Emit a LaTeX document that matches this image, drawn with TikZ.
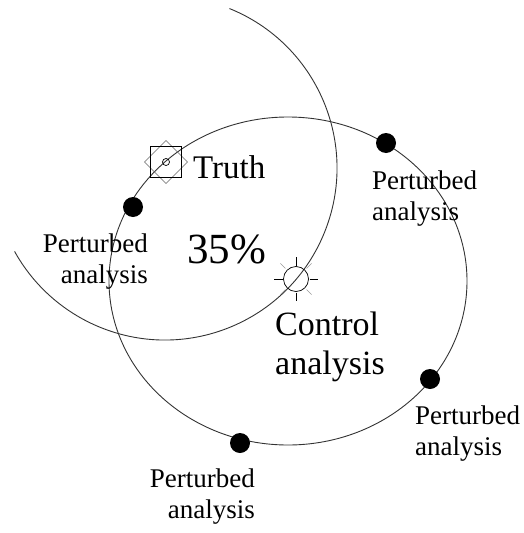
\documentclass[tikz,border=0pt]{standalone}
\usepackage{fontspec}
\setmainfont{Liberation Serif}
\usetikzlibrary{calc}

\begin{document}
\begin{tikzpicture}[x=1pt, y=-1pt,
		dot/.style={circle, fill=black, inner sep=0pt, minimum size=20pt},
		pert/.style={inner sep=0pt, font=\fontsize{27}{31}\selectfont},
		curve/.style={line width=0.9pt, color=black!80}]
			%%%%% START %%%%%
			\useasboundingbox (0, 0) rectangle (524, 533);
			
			\draw[curve] (288, 281) ellipse (179 and 164);
			\draw[curve] (165, 168) ++(-68:172) arc (-68:151:172);
			
			\node[dot] (p1) at (386, 143) {};
			\node[dot] (p2) at (133, 207) {};
			\node[dot] (p3) at (430, 379) {};
			\node[dot] (p4) at (240, 443) {};
			
			\node[pert, align=left, anchor=west] (l1) at (372, 199) {Perturbed\\analysis};
			\node[pert, align=right, anchor=east] (l2) at (148, 262) {Perturbed\\analysis};
			\node[pert, align=left, anchor=west] (l3) at (415, 434) {Perturbed\\analysis};
			\node[pert, align=right, anchor=east] (l4) at (255, 497) {Perturbed\\analysis};
			
			\coordinate (truth) at (166, 162);
			\draw[line width=0.5pt, color=black!60] ($(truth)+(-21.5, 0)$) -- ($(truth)+(0, -21.5)$) -- ($(truth)+(21.5, 0)$) -- ($(truth)+(0, 21.5)$) -- cycle;
			\draw[line width=0.9pt] ($(truth)+(-15.5, -15.5)$) rectangle ($(truth)+(15.5, 15.5)$);
			\draw[line width=0.7pt] (truth) circle (3.5);
			\node[inner sep=0pt, anchor=base west, font=\fontsize{33}{38}\selectfont] (tt) at (193, 178) {Truth};
			
			\node[inner sep=0pt, anchor=base west, font=\fontsize{43}{50}\selectfont] (pct) at (187, 263) {35\%};
			
			\coordinate (ctrl) at (296, 279);
			\draw[line width=0.7pt] (ctrl) circle (12.5);
			\foreach \a in {0, 90, 180, 270}
				\draw[line width=1pt] ($(ctrl)+(\a:13.5)$) -- ($(ctrl)+(\a:22)$);
			\foreach \a in {45, 135, 225, 315}
				\draw[line width=0.6pt, color=black!40] ($(ctrl)+(\a:15)$) -- ($(ctrl)+(\a:22)$);
			\node[inner sep=0pt, align=left, anchor=west, font=\fontsize{34}{39}\selectfont] (ca) at (275, 347) {Control\\analysis};
			
			%%%%% END %%%%%
		\end{tikzpicture}
\end{document}
